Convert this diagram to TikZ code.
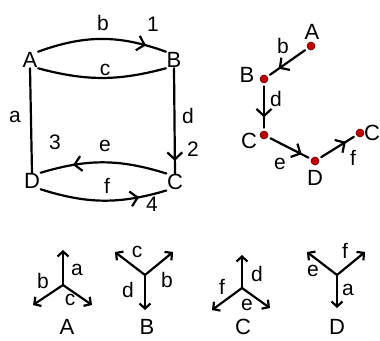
\documentclass[tikz,border=0pt]{standalone}
\usepackage{fontspec}
\setmainfont{Liberation Sans}
\usetikzlibrary{arrows.meta,decorations.markings}

\begin{document}
\begin{tikzpicture}[x=1pt,y=-1pt]
\tikzset{
  vertexlabel/.style={inner sep=0.5pt,font=\fontsize{22}{22}\selectfont},
  edgelabel/.style={inner sep=0.5pt,font=\fontsize{21}{21}\selectfont},
  dotnode/.style={circle,fill=red!75!black,draw=red!40!black,line width=0.6pt,minimum size=8pt,inner sep=0pt},
  graphedge/.style={draw=black,line width=2.2pt,line cap=round,line join=round},
  midarrow/.style={graphedge,postaction={decorate},
    decoration={markings,mark=at position #1 with {\arrow{Straight Barb[length=7pt,width=15pt,line width=2.2pt]}}}},
  stararrow/.style={graphedge,-{Straight Barb[length=5pt,width=11pt,line width=2.2pt]}}
}
\useasboundingbox (0,0) rectangle (380,340);
\fill[white] (0,0) rectangle (380,340);
% left graph
\node[vertexlabel] (n_A) at (30,60) {A};
\node[vertexlabel] (n_B) at (174,60) {B};
\node[vertexlabel] (n_C) at (175,182) {C};
\node[vertexlabel] (n_D) at (32,181) {D};
\draw[midarrow=0.84] (n_A.north east) to[bend left=20] (n_B.north west);
\draw[graphedge] (n_A.south east) to[bend right=15] (n_B.south west);
\draw[graphedge] (n_A.south) -- (n_D.north);
\draw[midarrow=0.88] (n_B.south) -- (n_C.north);
\draw[midarrow=0.74] (n_C.north west) to[bend right=17] (n_D.north east);
\draw[midarrow=0.78] (n_D.south east) to[bend right=17] (n_C.south west);
\node[edgelabel] (l_b) at (103,23) {b};
\node[edgelabel] (l_c) at (105,70) {c};
\node[edgelabel] (l_a) at (15,117) {a};
\node[edgelabel] (l_d) at (188,116) {d};
\node[edgelabel] (l_e) at (105,146) {e};
\node[edgelabel] (l_f) at (107,186) {f};
\node[edgelabel] (n_one) at (153,24) {1};
\node[edgelabel] (n_two) at (193,149) {2};
\node[edgelabel] (n_three) at (55,142) {3};
\node[edgelabel] (n_four) at (152,204) {4};
% right graph
\node[dotnode] (m_A) at (311,46) {};
\node[dotnode] (m_B) at (264,79) {};
\node[dotnode] (m_C) at (264,135) {};
\node[dotnode] (m_D) at (315,161) {};
\node[dotnode] (m_E) at (360,133) {};
\node[vertexlabel] at (312,32) {A};
\node[vertexlabel] at (247,75) {B};
\node[vertexlabel] at (249,141) {C};
\node[vertexlabel] at (315,178) {D};
\node[vertexlabel] at (372,133) {C};
\draw[midarrow=0.72,shorten <=3pt,shorten >=3pt] (m_A) -- (m_B);
\draw[midarrow=0.72,shorten <=3pt,shorten >=3pt] (m_B) -- (m_C);
\draw[midarrow=0.78,shorten <=3pt,shorten >=3pt] (m_C) -- (m_D);
\draw[midarrow=0.72,shorten <=3pt,shorten >=3pt] (m_D) -- (m_E);
\node[edgelabel] (r_b) at (283,46) {b};
\node[edgelabel] (r_d) at (276,99) {d};
\node[edgelabel] (r_e) at (280,164) {e};
\node[edgelabel] (r_f) at (353,158) {f};
% vertex stars
\coordinate (s_A) at (63,285);
\draw[stararrow] (s_A) -- (63,250);
\draw[stararrow] (s_A) -- (33,305);
\draw[stararrow] (s_A) -- (92,305);
\node[edgelabel] (t_Aa) at (77,270) {a};
\node[edgelabel] (t_Ab) at (43,281) {b};
\node[edgelabel] (t_Ac) at (70,300) {c};
\node[vertexlabel] (t_A) at (67,327) {A};
\coordinate (s_B) at (145,275);
\draw[stararrow] (s_B) -- (145,310);
\draw[stararrow] (s_B) -- (115,252);
\draw[stararrow] (s_B) -- (173,252);
\node[edgelabel] (t_Bc) at (137,252) {c};
\node[edgelabel] (t_Bb) at (167,280) {b};
\node[edgelabel] (t_Bd) at (128,290) {d};
\node[vertexlabel] (t_B) at (147,327) {B};
\coordinate (s_C) at (242,288);
\draw[stararrow] (s_C) -- (242,255);
\draw[stararrow] (s_C) -- (212,310);
\draw[stararrow] (s_C) -- (270,308);
\node[edgelabel] (t_Cd) at (257,274) {d};
\node[edgelabel] (t_Cf) at (222,287) {f};
\node[edgelabel] (t_Ce) at (247,305) {e};
\node[vertexlabel] (t_C) at (243,327) {C};
\coordinate (s_D) at (337,275);
\draw[stararrow] (s_D) -- (337,308);
\draw[stararrow] (s_D) -- (307,252);
\draw[stararrow] (s_D) -- (365,252);
\node[edgelabel] (t_De) at (313,271) {e};
\node[edgelabel] (t_Df) at (345,251) {f};
\node[edgelabel] (t_Da) at (348,290) {a};
\node[vertexlabel] (t_D) at (337,327) {D};
\end{tikzpicture}
\end{document}
